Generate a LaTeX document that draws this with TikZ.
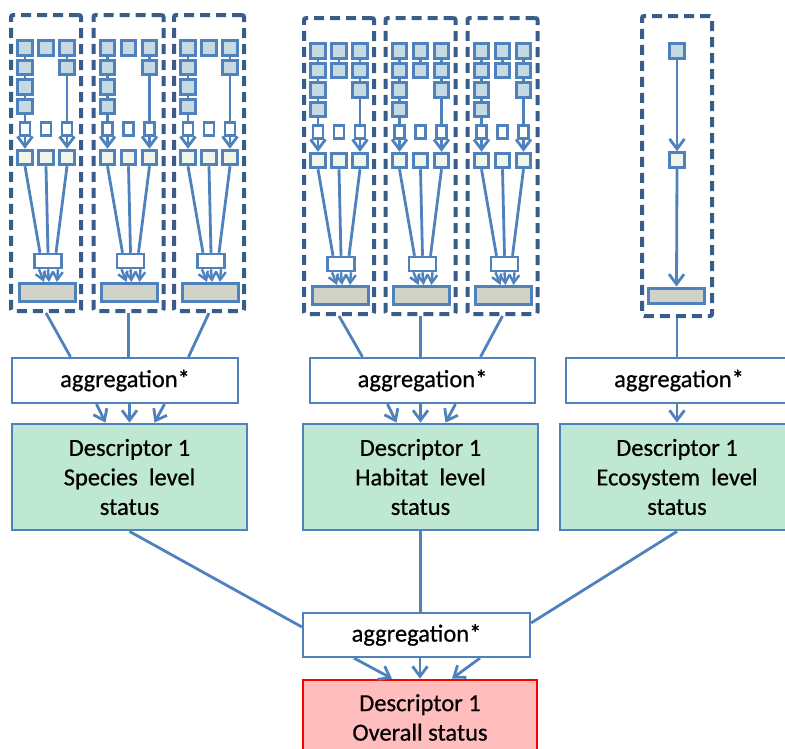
\documentclass[tikz,border=0pt]{standalone}
\usepackage{fontspec}
\setmainfont{Carlito}[FakeBold=0.6]
\usetikzlibrary{arrows.meta,calc}

\definecolor{lineblue}{HTML}{4F81BD}
\definecolor{frameblue}{HTML}{385D8A}
\definecolor{sqfill}{HTML}{C6DAE4}
\definecolor{palefill}{HTML}{F1F5E9}
\definecolor{barfill}{HTML}{D0D3C5}
\definecolor{descfill}{HTML}{BFE8D2}
\definecolor{overallfill}{HTML}{FFBDBD}

\tikzset{
  conn/.style={draw=lineblue, line width=2.8pt},
  arr/.style={conn, -{Straight Barb[length=10pt,width=15pt]}},
  smallarr/.style={conn, line width=2.4pt, -{Straight Barb[length=8pt,width=10pt]}},
  framebox/.style={draw=frameblue, line width=4pt, dash pattern=on 10pt off 6pt,
    rounded corners=2pt, minimum width=70pt, minimum height=296pt, inner sep=0pt},
  sqbox/.style={draw=lineblue, line width=3pt, fill=sqfill, minimum size=14.5pt, inner sep=0pt},
  palebox/.style={sqbox, fill=palefill},
  tinybox/.style={draw=lineblue, line width=2.5pt, fill=white, minimum width=10pt,
    minimum height=13pt, inner sep=0pt},
  mergebox/.style={draw=lineblue, line width=2.5pt, fill=white, minimum width=27pt,
    minimum height=14pt, inner sep=0pt},
  barbox/.style={draw=lineblue, line width=3pt, fill=barfill, minimum width=56pt,
    minimum height=18pt, inner sep=0pt},
  labelfont/.style={font=\fontsize{24.5}{29.5}\selectfont},
  aggbox/.style={draw=lineblue, line width=2.2pt, fill=white, minimum height=45pt,
    inner sep=0pt, labelfont},
  descbox/.style={draw=lineblue, line width=2.8pt, fill=descfill, minimum width=235pt,
    minimum height=106pt, align=center, inner sep=0pt, labelfont},
  overallbox/.style={descbox, draw=red, fill=overallfill, minimum height=75pt},
}

% One indicator tree: #1 name, #2 centre x, #3 top y, #4-#6 squares per column
\newcommand{\minitree}[6]{%
  \begin{scope}[shift={(#2,#3)}]
    \node[framebox] (#1) at (0,148) {};
    \foreach \cx/\cnt [count=\col] in {-21/#4,0/#5,21/#6}{
      \foreach \row in {1,...,\cnt}{
        \node[sqbox] (#1-\col-\row) at (\cx,{33+19.5*(\row-1)}) {};
        \ifnum\row>1
          \pgfmathtruncatemacro\prevrow{\row-1}
          \draw[conn] (#1-\col-\prevrow.south) -- (#1-\col-\row.north);
        \fi
      }
      \node[palebox] (#1-p\col) at (\cx,142.5) {};
      \ifnum\col=2\else
        \draw[arr] (#1-\col-\cnt.south) -- (#1-p\col.north);
      \fi
      \node[tinybox] (#1-w\col) at (\cx,114) {};
    }
    \node[mergebox] (#1-m) at (2,246) {};
    \node[barbox] (#1-b) at (1,277.5) {};
    \draw[conn] (#1-p1.south) -- ($(#1-m.north)+(-8,0)$);
    \draw[conn] (#1-p2.south) -- (#1-m.north);
    \draw[conn] (#1-p3.south) -- ($(#1-m.north)+(8,0)$);
    \draw[smallarr] ($(#1-m.south)+(-9,0)$) -- ($(#1-b.north)+(-3,0)$);
    \draw[smallarr] (#1-m.south) -- ($(#1-b.north)+(2,0)$);
    \draw[smallarr] ($(#1-m.south)+(10,0)$) -- ($(#1-b.north)+(10,0)$);
  \end{scope}}

\begin{document}
\begin{tikzpicture}[x=1pt,y=-1pt]
  \useasboundingbox (0,0) rectangle (785,748);
  \clip (0,0) rectangle (785,748);

  % species trees
  \minitree{t1}{46}{15}{4}{1}{2}
  \minitree{t2}{128.5}{15}{4}{1}{2}
  \minitree{t3}{209}{15}{4}{1}{2}
  % habitat trees
  \minitree{t4}{339}{18}{4}{2}{3}
  \minitree{t5}{420.5}{18}{4}{2}{3}
  \minitree{t6}{502.5}{18}{4}{2}{3}

  % ecosystem chain
  \node[framebox, minimum height=300pt] (t7) at (677,166) {};
  \node[sqbox] (t7-s) at (677,51) {};
  \node[palebox] (t7-p) at (677,160) {};
  \node[barbox, minimum height=15pt] (t7-b) at (676.5,295.5) {};
  \draw[arr] (t7-s.south) -- (t7-p.north);
  \draw[arr] (t7-p.south) -- (t7-b.north);

  % aggregation and descriptor boxes
  \node[aggbox, minimum width=226pt] (agg1) at (125,380.5) {aggregation*};
  \node[aggbox, minimum width=225pt] (agg2) at (422.5,380.5) {aggregation*};
  \node[aggbox, minimum width=226pt] (agg3) at (679,380.5) {aggregation*};
  \node[descbox] (d1) at (129.5,477) {Descriptor 1\\Species\ \ level\\status};
  \node[descbox] (d2) at (420.5,477) {Descriptor 1\\Habitat\ \ level\\status};
  \node[descbox, minimum width=234pt] (d3) at (677,477) {Descriptor 1\\Ecosystem\ \ level\\status};
  \node[aggbox, minimum width=227pt, minimum height=44pt] (agg4) at (416.5,635) {aggregation*};
  \node[overallbox, minimum width=234pt] (all) at (420,717.5) {Descriptor 1\\Overall status};

  % trees into aggregation
  \draw[conn] (t1.south) -- ($(t2.south |- agg1.north)+(-58,0)$);
  \draw[conn] (t2.south) -- (t2.south |- agg1.north);
  \draw[conn] (t3.south) -- ($(t2.south |- agg1.north)+(60,0)$);
  \draw[conn] (t4.south) -- ($(t5.south |- agg2.north)+(-58,0)$);
  \draw[conn] (t5.south) -- (t5.south |- agg2.north);
  \draw[conn] (t6.south) -- ($(t5.south |- agg2.north)+(60,0)$);
  \draw[conn] (t7.south) -- (t7.south |- agg3.north);

  % aggregation into descriptors
  \foreach \src/\dst in {agg1/d1, agg2/d2}{
    \draw[arr] ($(\dst.north |- \src.south)+(-33,0)$) -- ($(\dst.north)+(-24,0)$);
    \draw[arr] (\dst.north |- \src.south) -- (\dst.north);
    \draw[arr] ($(\dst.north |- \src.south)+(35,0)$) -- ($(\dst.north)+(25,0)$);
  }
  \draw[arr] (d3.north |- agg3.south) -- (d3.north);

  % descriptors into overall aggregation
  \draw[conn] (d1.south) -- (agg4.176.5);
  \draw[conn] (d2.south) -- (d2.south |- agg4.north);
  \draw[conn] (d3.south) -- (agg4.6.5);
  \draw[arr] ($(all.north |- agg4.south)+(-66,0)$) -- ($(all.north)+(-28,0)$);
  \draw[arr] (all.north |- agg4.south) -- (all.north);
  \draw[arr] ($(all.north |- agg4.south)+(60,0)$) -- ($(all.north)+(32,0)$);
\end{tikzpicture}
\end{document}
